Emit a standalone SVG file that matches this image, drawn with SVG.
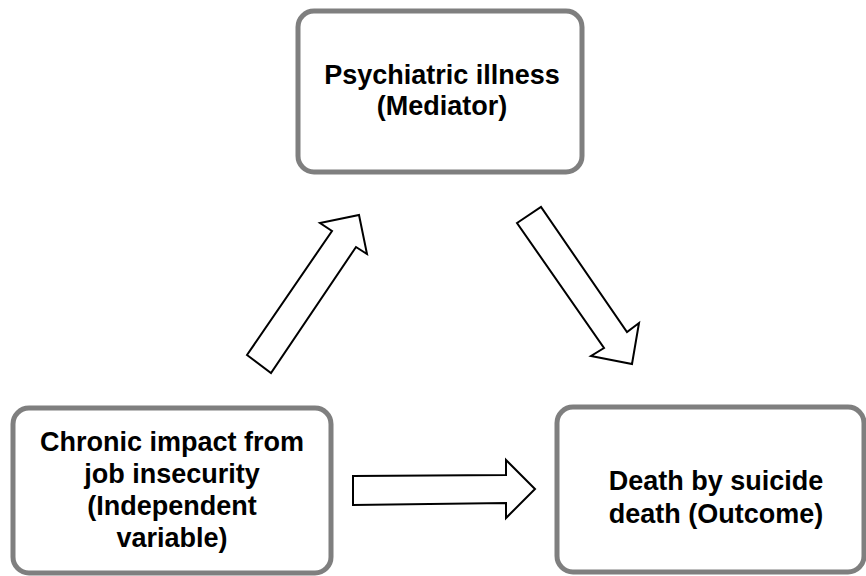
<svg xmlns="http://www.w3.org/2000/svg" width="866" height="576" viewBox="0 0 866 576">
<style>
.box{fill:#ffffff;stroke:#7f7f7f;stroke-width:5}
.lbl{font-family:"Liberation Sans",Arial,sans-serif;font-weight:bold;font-size:27px;fill:#000000;text-anchor:middle}
.arr{fill:#ffffff;stroke:#000000;stroke-width:2;stroke-linejoin:miter}
</style>
<rect width="866" height="576" fill="#ffffff"/>
<g id="mediator">
<rect class="box" x="298" y="11" width="284" height="161" rx="16"/>
<text class="lbl" x="442" y="84">Psychiatric illness</text>
<text class="lbl" x="442" y="115">(Mediator)</text>
</g>
<g id="independent">
<rect class="box" x="13" y="408" width="318" height="165" rx="16"/>
<text class="lbl" x="172" y="451">Chronic impact from</text>
<text class="lbl" x="172" y="483">job insecurity</text>
<text class="lbl" x="172" y="515">(Independent</text>
<text class="lbl" x="172" y="547">variable)</text>
</g>
<g id="outcome">
<rect class="box" x="557" y="407" width="307" height="165" rx="16"/>
<text class="lbl" x="716" y="490">Death by suicide</text>
<text class="lbl" x="716" y="523">death (Outcome)</text>
</g>
<g id="connectors">
<polygon class="arr" points="247,355 271,373 356,247 367,254 359,215 320,223 332,231"/>
<polygon class="arr" points="517,223 541,207 627,332 639,323 632,364 591,356 604,348"/>
<polygon class="arr" points="353,476 506,475 506,460 535,489 506,518 506,503 353,505"/>
</g>
</svg>
